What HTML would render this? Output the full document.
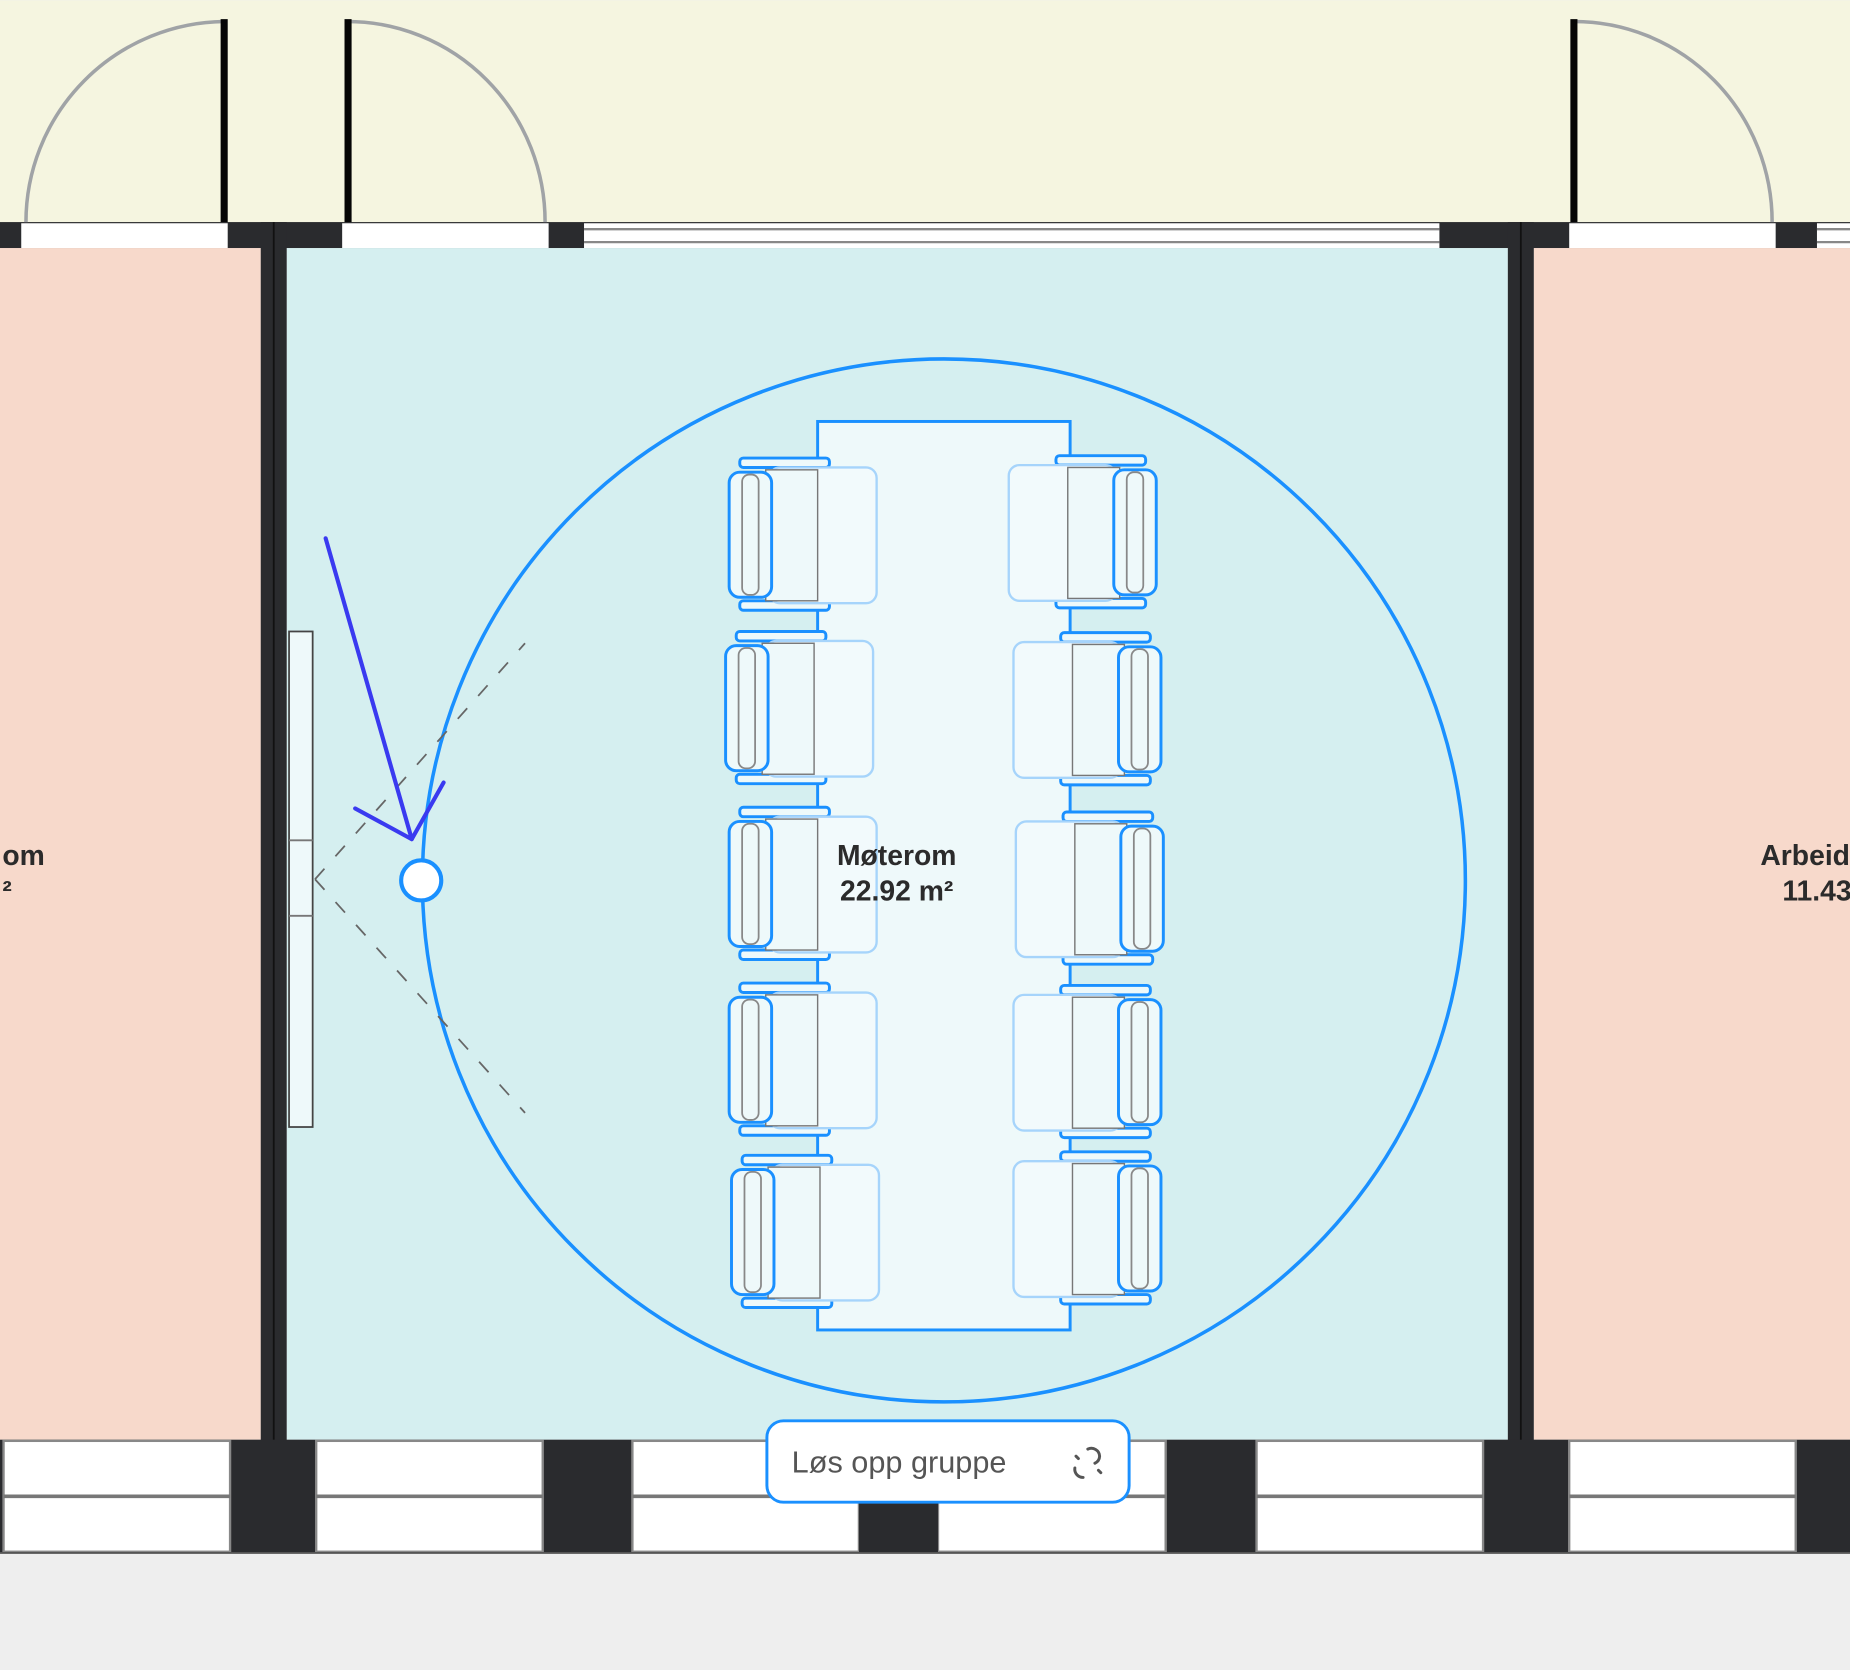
<!DOCTYPE html>
<html><head><meta charset="utf-8"><style>
html,body{margin:0;padding:0;background:#eeeeee;}
svg{display:block;}
</style></head><body>
<svg width="1850" height="1670" viewBox="0 0 1568 1415" xmlns="http://www.w3.org/2000/svg" font-family="Liberation Sans, sans-serif">
<defs>
<g id="chairL">
  <!-- arm bars -->
  <rect x="627" y="388" width="76" height="8" rx="3" fill="#eef9fa" stroke="#1a90ff" stroke-width="2.5"/>
  <rect x="627" y="509" width="76" height="8" rx="3" fill="#eef9fa" stroke="#1a90ff" stroke-width="2.5"/>
  <!-- cushion -->
  <rect x="652" y="396" width="91" height="115" rx="9" fill="#f2fafc" stroke="#a6d4fb" stroke-width="2"/>
  <!-- seat frame -->
  <rect x="649" y="398" width="44" height="111" fill="#eef9fa" stroke="#777" stroke-width="1.2"/>
  <!-- back -->
  <rect x="618" y="400" width="36" height="106" rx="9" fill="#eef9fa" stroke="#1a90ff" stroke-width="2.5"/>
  <rect x="629" y="402" width="14" height="102" rx="6" fill="none" stroke="#888" stroke-width="1.5"/>
</g>
</defs>
<!-- backgrounds -->
<rect x="0" y="0" width="1568" height="190" fill="#f5f5e0"/>
<rect x="0" y="1316" width="1568" height="99" fill="#eeeeee"/>
<rect x="0" y="210" width="221" height="1010" fill="#f7d9cb"/>
<rect x="1300" y="210" width="268" height="1010" fill="#f7d9cb"/>
<rect x="243" y="210" width="1035" height="1010" fill="#d5eff0"/>

<!-- top wall -->
<rect x="0" y="188" width="1568" height="22" fill="#2a2b2e"/>
<rect x="18" y="189" width="175" height="21" fill="#fff"/>
<rect x="290" y="189" width="175" height="21" fill="#fff"/>
<rect x="1330" y="189" width="175" height="21" fill="#fff"/>
<rect x="495" y="189" width="725" height="21" fill="#fff"/>
<line x1="495" y1="194" x2="1220" y2="194" stroke="#888" stroke-width="2"/>
<line x1="495" y1="205" x2="1220" y2="205" stroke="#888" stroke-width="2"/>
<rect x="1540" y="189" width="28" height="21" fill="#fff"/>
<line x1="1540" y1="194" x2="1568" y2="194" stroke="#888" stroke-width="2"/>
<line x1="1540" y1="205" x2="1568" y2="205" stroke="#888" stroke-width="2"/>

<!-- doors -->
<g fill="none" stroke="#a0a3a6" stroke-width="3">
<path d="M190 18 A170 170 0 0 0 22 188"/>
<path d="M294 18 A168 170 0 0 1 462 188"/>
<path d="M1334 18 A168 170 0 0 1 1502 188"/>
</g>
<g stroke="#050505" stroke-width="6">
<line x1="190" y1="16" x2="190" y2="188"/>
<line x1="295" y1="16" x2="295" y2="188"/>
<line x1="1334" y1="16" x2="1334" y2="188"/>
</g>

<!-- vertical walls -->
<rect x="221" y="188" width="22" height="1128" fill="#2a2b2e"/>
<rect x="1278" y="188" width="22" height="1128" fill="#2a2b2e"/>
<line x1="232" y1="188" x2="232" y2="1316" stroke="#111" stroke-width="1.5"/>
<line x1="1289" y1="188" x2="1289" y2="1316" stroke="#111" stroke-width="1.5"/>

<!-- bottom wall -->
<rect x="0" y="1220" width="1568" height="96" fill="#2a2b2e"/>
<g fill="#fff" stroke="#888" stroke-width="2">
<rect x="3" y="1221" width="192" height="94"/>
<rect x="268" y="1221" width="192" height="94"/>
<rect x="536" y="1221" width="192" height="94"/>
<rect x="795" y="1221" width="193" height="94"/>
<rect x="1065" y="1221" width="192" height="94"/>
<rect x="1330" y="1221" width="192" height="94"/>
</g>
<g stroke="#777" stroke-width="3">
<line x1="3" y1="1268" x2="195" y2="1268"/>
<line x1="268" y1="1268" x2="460" y2="1268"/>
<line x1="536" y1="1268" x2="728" y2="1268"/>
<line x1="795" y1="1268" x2="988" y2="1268"/>
<line x1="1065" y1="1268" x2="1257" y2="1268"/>
<line x1="1330" y1="1268" x2="1522" y2="1268"/>
</g>
<rect x="728" y="1221" width="67" height="95" fill="#2a2b2e"/>
<line x1="0" y1="1316" x2="1568" y2="1316" stroke="#555" stroke-width="1.5"/>

<!-- whiteboard -->
<rect x="245" y="535" width="20" height="420" fill="#eef9fa" stroke="#444" stroke-width="1.5"/>
<line x1="245" y1="712" x2="265" y2="712" stroke="#777" stroke-width="1.5"/>
<line x1="245" y1="776" x2="265" y2="776" stroke="#777" stroke-width="1.5"/>

<!-- circle -->
<ellipse cx="800" cy="746" rx="442" ry="442" fill="none" stroke="#1a90ff" stroke-width="3"/>

<!-- table -->
<rect x="693" y="357" width="214" height="770" fill="#eef9fa" stroke="#1a90ff" stroke-width="2.5"/>

<!-- chairs -->
<use href="#chairL"/>
<use href="#chairL" transform="translate(-3,147)"/>
<use href="#chairL" transform="translate(0,296)"/>
<use href="#chairL" transform="translate(0,445)"/>
<use href="#chairL" transform="translate(2,591)"/>
<g transform="translate(1600,0) scale(-1,1)">
<use href="#chairL" transform="translate(2,-2)"/>
<use href="#chairL" transform="translate(-2,148)"/>
<use href="#chairL" transform="translate(-4,300)"/>
<use href="#chairL" transform="translate(-2,447)"/>
<use href="#chairL" transform="translate(-2,588)"/>
</g>

<!-- camera view dashed -->
<g stroke="#666" stroke-width="1.5" stroke-dasharray="12,14" fill="none">
<line x1="267" y1="745" x2="445" y2="545"/>
<line x1="267" y1="745" x2="445" y2="943"/>
</g>
<!-- arrow -->
<g stroke="#3a3af0" stroke-width="3.5" fill="none" stroke-linecap="round" stroke-linejoin="round">
<line x1="276" y1="456" x2="349" y2="711"/>
<polyline points="301,685 349,711 376,663"/>
</g>
<circle cx="357" cy="746" r="17" fill="#fff" stroke="#1a90ff" stroke-width="3.5"/>

<!-- labels -->
<g font-weight="bold" font-size="24" fill="#2b2b2b" text-anchor="middle">
<text x="760" y="733">Møterom</text>
<text x="760" y="763">22.92 m²</text>
<text x="20" y="733">om</text>
<text x="6" y="763">²</text>
<text x="1530" y="733">Arbeid</text>
<text x="1540" y="763">11.43</text>
</g>

<!-- button -->
<rect x="650" y="1204" width="307" height="69" rx="14" fill="#fff" stroke="#1a90ff" stroke-width="2.5"/>
<text x="671" y="1248" font-size="26" fill="#555">Løs opp gruppe</text>
<g stroke="#555" stroke-width="2.5" fill="none" stroke-linecap="round">
<path d="M922 1228 a7 7 0 0 1 10 6 a7 7 0 0 1 -4 6"/>
<path d="M918 1252 a7 7 0 0 1 -7 -8"/>
<line x1="912" y1="1234" x2="914" y2="1236"/>
<line x1="931" y1="1246" x2="933" y2="1248"/>
</g>
</svg>
</body></html>
